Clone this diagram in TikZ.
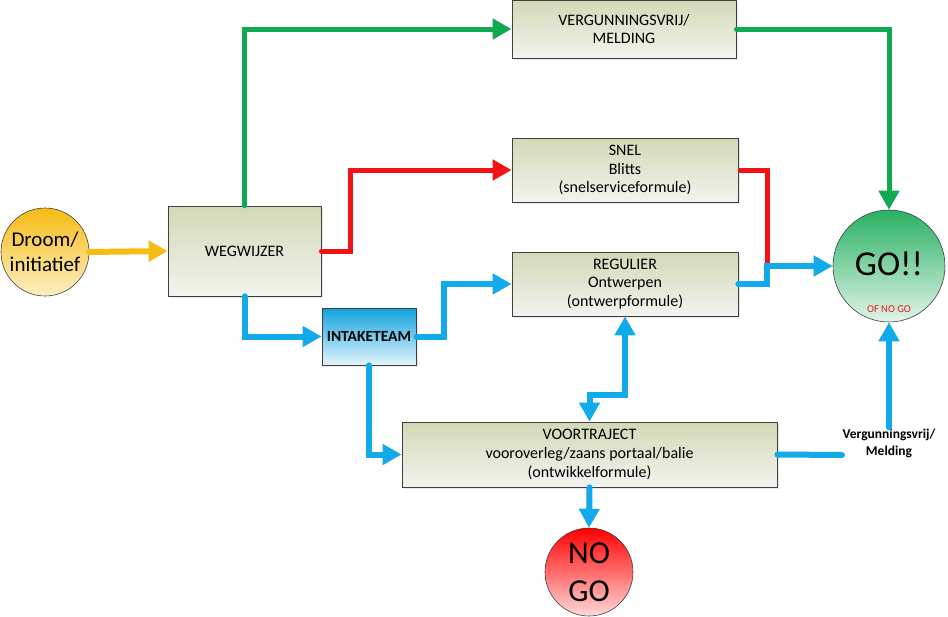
\documentclass[tikz,border=0pt]{standalone}
\usepackage{fontspec}
\setmainfont{Carlito}
\usetikzlibrary{arrows.meta,shadows}
\definecolor{cblue}{HTML}{12AAE8}
\definecolor{cgreen}{HTML}{10A850}
\definecolor{cred}{HTML}{F21414}
\definecolor{cyellow}{HTML}{F6BC14}
\definecolor{boxtop}{HTML}{D2D9B6}
\definecolor{boxbot}{HTML}{F3F3EF}
\definecolor{bordergray}{HTML}{404040}
\begin{document}
\begin{tikzpicture}[x=1pt,y=-1pt,
  box/.style={draw=bordergray, line width=0.8pt, top color=boxtop, bottom color=boxbot,
    align=center, inner sep=0pt, font=\fontsize{16}{18.8}\selectfont,
    drop shadow={opacity=0.18, shadow xshift=2pt, shadow yshift=-2pt}},
  circ/.style={circle, draw=bordergray, line width=0.6pt, align=center, inner sep=0pt},
  conn/.style={line width=6pt, line cap=round, -{Triangle[length=19pt,width=20pt]}},
  plain/.style={line width=6pt, line cap=round},
]
\useasboundingbox (0,0) rectangle (948,616);

% nodes
\node[circ, minimum size=88pt, top color=cyellow, bottom color=cyellow!25!white,
  font=\fontsize{21}{25}\selectfont] (droom) at (45,252) {Droom/\\initiatief};
\node[box, minimum width=153pt, minimum height=90pt] (weg) at (244.5,251) {WEGWIJZER};
\node[box, minimum width=224pt, minimum height=58pt] (verg) at (624,29) {VERGUNNINGSVRIJ/\\MELDING};
\node[box, minimum width=226pt, minimum height=64pt] (snel) at (625,170) {SNEL\\Blitts\\(snelserviceformule)};
\node[box, minimum width=226pt, minimum height=64pt] (reg) at (625,284) {REGULIER\\Ontwerpen\\(ontwerpformule)};
\node[box, minimum width=94pt, minimum height=57pt, top color=cblue!95!black, bottom color=cblue!12!white,
  font=\bfseries\fontsize{15.5}{18}\selectfont] (intake) at (369,336.5) {INTAKETEAM};
\node[box, minimum width=375pt, minimum height=65pt] (voor) at (589.5,454.5)
  {VOORTRAJECT\\vooroverleg/zaans portaal/balie\\(ontwikkelformule)};
\node[circ, minimum size=112pt, top color=cgreen!90!white, bottom color=cgreen!12!white] (go) at (889,266) {};
\node[font=\fontsize{35}{35}\selectfont] (gotext) at (889,264) {GO!!};
\node[font=\fontsize{10.5}{10.5}\selectfont, text=cred] (ofnogo) at (889,309) {OF NO GO};
\node[circ, minimum size=88pt, top color=red, bottom color=red!15!white,
  font=\fontsize{32}{38}\selectfont] (nogo) at (589,572) {NO\\GO};
\node[align=center, font=\bfseries\fontsize{13.5}{17}\selectfont, inner sep=1pt] (lbl) at (889,443)
  {Vergunningsvrij/\\Melding};

% helper coordinates
\coordinate (rbend) at (350,251);
\coordinate (ibend) at (444,336.5);
\coordinate (join) at (767,266);
\coordinate (dbend) at (625,395);
\coordinate (vend) at (842,455);

% connectors
\draw[conn, cyellow] (droom.east) -- (weg.west);
\draw[conn, cgreen, line width=5pt] (weg.north) |- (verg.west);
\draw[conn, cgreen, line width=5pt] (verg.east) -| (go.north);
\draw[conn, cred, line width=5pt] (weg.east) -- (rbend) |- (snel.west);
\draw[plain, cred, line width=5pt, line cap=butt] (snel.east) -| (join);
\draw[conn, cblue] (reg.east) -| (join) -- (go.west);
\draw[conn, cblue] (weg.south) |- (intake.west);
\draw[conn, cblue] (intake.east) -- (ibend) |- (reg.west);
\draw[conn, cblue] (intake.south) |- (voor.west);
\draw[cblue, line width=6pt, {Triangle[length=19pt,width=20pt]}-{Triangle[length=19pt,width=20pt]}]
  (reg.south) -- (dbend) -| (voor.north);
\draw[conn, cblue] (voor.south) -- (nogo.north);
\draw[plain, cblue] (voor.east) -- (vend);
\draw[conn, cblue] (lbl.north) -- (go.south);
\end{tikzpicture}
\end{document}
